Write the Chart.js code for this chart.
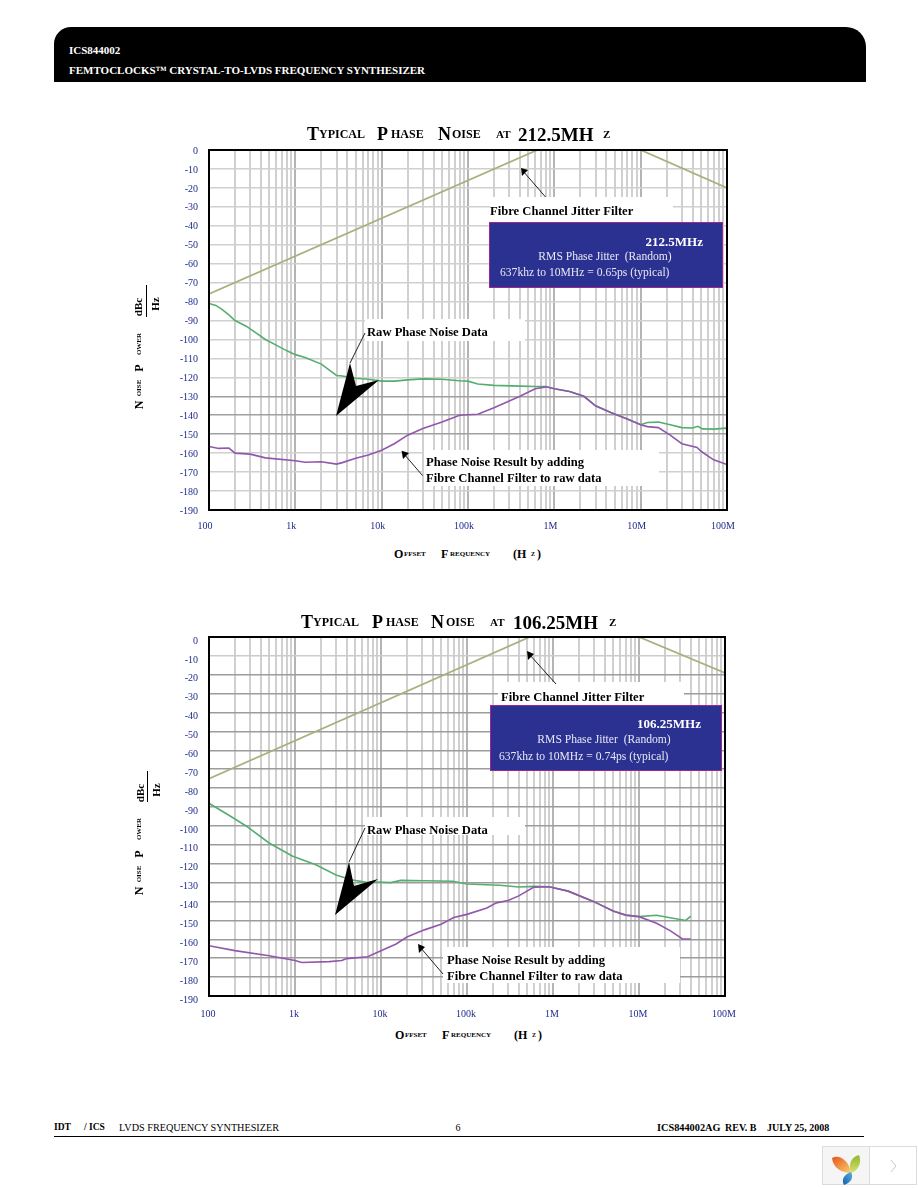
<!DOCTYPE html>
<html>
<head>
<meta charset="utf-8">
<title>ICS844002 phase noise</title>
<script src="https://cdn.jsdelivr.net/npm/chart.js@4"></script>
<style>
html, body { margin: 0; padding: 0; background: #fff; }
#page { position: relative; width: 918px; height: 1188px; overflow: hidden; font-family: "Liberation Serif", serif; color: #000; }
#page canvas { position: absolute; }
.t { position: absolute; white-space: pre; line-height: 1; }
.box { position: absolute; }
#header { left: 54px; top: 27px; width: 812px; height: 55px; background: #000; border-radius: 17px 20px 0 0; }
#footline { left: 54px; top: 1135.5px; width: 810px; height: 1px; background: #000; }
#widget { left: 822px; top: 1146px; width: 95px; height: 39px; border: 1px solid #dcdcdc; box-sizing: border-box; background: #fff; }
#widget div { position: absolute; left: 0; top: 0; width: 46px; height: 37px; background: #f5f5f5; border-right: 1px solid #dcdcdc; }
</style>
</head>
<body>
<div id="page">
  <div class="box" id="header"></div>
  <div class="box" id="footline"></div>
  <div class="box" id="widget"><div></div></div>
  <svg style="position:absolute;left:822px;top:1146px" width="95" height="39" viewBox="0 0 95 39">
    <defs>
      <linearGradient id="leafOrange" x1="0" y1="0" x2="1" y2="1"><stop offset="0" stop-color="#e8541e"/><stop offset="1" stop-color="#f8d070"/></linearGradient>
      <linearGradient id="leafGreen" x1="0" y1="0" x2="0" y2="1"><stop offset="0" stop-color="#8fb82e"/><stop offset="1" stop-color="#d8e070"/></linearGradient>
      <linearGradient id="leafBlue" x1="1" y1="0" x2="0" y2="1"><stop offset="0" stop-color="#5ab0e0"/><stop offset="1" stop-color="#1060b0"/></linearGradient>
    </defs>
    <path d="M10 12 C17 8 27 14 29 27 C20 27 11 22 10 12Z" fill="url(#leafOrange)"/>
    <path d="M29 27 C26 18 29 11 37 9 C40 16 37 24 29 27Z" fill="url(#leafGreen)"/>
    <path d="M22 39 C19 34 22 28 29 26 C32 31 29 37 22 39Z" fill="url(#leafBlue)"/>
    <path d="M69 14 L74 20 L69 26" fill="none" stroke="#c8c8c8" stroke-width="1"/>
  </svg>
  <canvas id="chartTop" width="620" height="400" style="left:120px;top:140px;width:620px;height:400px"></canvas>
  <canvas id="chartBottom" width="620" height="390" style="left:120px;top:627px;width:620px;height:390px"></canvas>
</div>
<script>
// tick labels and gridlines
const decadeValues = [100, 1000, 10000, 100000, 1000000, 10000000, 100000000]
const decadeLabels = ['100', '1k', '10k', '100k', '1M', '10M', '100M']
const gridValues = [100, 200, 300, 400, 500, 600, 700, 800, 900,
    1000, 2000, 3000, 4000, 5000, 6000, 7000, 8000, 9000,
    10000, 20000, 30000, 40000, 50000, 60000, 70000, 80000, 90000,
    100000, 200000, 300000, 400000, 500000, 600000, 700000, 800000, 900000,
    1000000, 2000000, 3000000, 4000000, 5000000, 6000000, 7000000, 8000000, 9000000,
    10000000, 20000000, 30000000, 40000000, 50000000, 60000000, 70000000, 80000000, 90000000,
    100000000]

// 212.5 MHz chart
const filterFreqTop = [100, 637000, 10000000, 100000000]
const filterTop = [-76, 0, 0, -20]
const rawFreqTop = [100, 120, 140, 170, 200, 270, 350, 450, 600, 800, 1000, 1300, 2000, 3000, 3500, 5000, 7000, 10000, 14000, 20000, 30000, 50000, 80000, 100000, 130000, 200000, 400000, 600000, 800000, 1000000, 1500000, 2200000, 3000000, 4500000, 7000000, 10000000, 12000000, 16000000, 22000000, 30000000, 40000000, 46000000, 52000000, 70000000, 100000000]
const rawTop = [-81, -82, -84, -87, -90, -93, -96.5, -100, -103, -106, -108, -109.5, -113, -119, -119.3, -120.5, -121, -122, -122, -121.3, -120.8, -121, -121.8, -122, -123.5, -124.2, -124.6, -124.8, -124.8, -126, -127.5, -130, -135, -138.5, -142, -145, -143.8, -143.6, -145, -146.5, -146.7, -145.8, -147.2, -147.3, -146.8]
const resultFreqTop = [100, 130, 170, 200, 300, 450, 1000, 1300, 2000, 3000, 3500, 5000, 7000, 10000, 14000, 20000, 30000, 50000, 80000, 100000, 130000, 200000, 400000, 600000, 800000, 1000000, 1500000, 2200000, 3000000, 4500000, 7000000, 10000000, 12000000, 16000000, 22000000, 30000000, 45000000, 50000000, 70000000, 100000000]
const resultTop = [-156.5, -157.5, -157.3, -160, -160.5, -162.5, -164, -164.8, -164.5, -165.8, -165, -162.7, -161, -158.5, -155, -150.5, -147, -143.5, -140, -139.7, -139.5, -136, -130, -126, -125, -126, -127.5, -130, -135, -138.5, -142, -145, -146, -146.5, -150.5, -155, -157, -159, -163.5, -166]

// 106.25 MHz chart
const filterFreqBottom = [100, 537000, 10000000, 100000000]
const filterBottom = [-75, 0, 0, -19]
const rawFreqBottom = [100, 180, 270, 500, 940, 1750, 3000, 4500, 7000, 9000, 13000, 17000, 32000, 68000, 100000, 240000, 400000, 600000, 900000, 1500000, 2900000, 5000000, 7000000, 10000000, 16000000, 23000000, 35000000, 40000000]
const rawBottom = [-88, -95, -100, -109, -116, -120.5, -126, -128.5, -130, -129.7, -130, -128.8, -129, -129.3, -130.7, -131.4, -132.3, -132, -132.2, -134.5, -139.8, -145, -147.2, -148, -147.3, -148.6, -150, -147.7]
const resultFreqBottom = [100, 200, 500, 1000, 1200, 2500, 3500, 4000, 7000, 10000, 15000, 20000, 32000, 50000, 70000, 100000, 170000, 220000, 300000, 400000, 600000, 900000, 1500000, 2900000, 5000000, 7000000, 10000000, 16000000, 23000000, 32000000, 40000000]
const resultBottom = [-163.4, -166, -168.7, -171.2, -172.3, -171.8, -171.2, -170.2, -169.2, -166, -162.5, -158.8, -155, -152, -148.5, -146.8, -143.4, -140.7, -139.5, -137, -132.4, -132.2, -134.5, -139.8, -145, -147.2, -148, -151.5, -155.4, -159.8, -159.8]

function pairs(xs, ys) {
    return xs.map(function(x, i) { return { x: x, y: ys[i] } })
}

// page positions for the callouts, turned into canvas positions by the plugin
const calloutsTop = {
    boxes: [[365, 319, 160, 22], [490, 197, 183, 25], [424, 450, 235, 36]],
    panel: [489.5, 222.5, 233, 65],
    lines: [[545.5, 197, 523, 171], [365, 333, 350, 363], [422.6, 475.7, 404, 454]],
    heads: [[521, 168, 528, 170, 522, 176], [401.6, 450.7, 409, 453, 403, 459]],
    bigArrow: [336, 416, 350, 363, 356, 386, 379, 380]
}
const calloutsBottom = {
    boxes: [[365, 817, 160, 18], [498, 682, 186, 23], [443, 947, 237, 36]],
    panel: [490.5, 705.5, 231, 65],
    lines: [[556, 684, 529, 654], [365, 828, 349, 862], [443, 974, 420, 947]],
    heads: [[527, 651, 534, 654, 528, 660], [418, 944, 425, 947, 419, 953]],
    bigArrow: [335, 915, 349, 862, 354, 886, 378, 879]
}

const calloutPlugin = {
    id: 'callouts',
    afterDraw: function(chart, args, opts) {
        const ctx = chart.ctx
        const c = opts.data
        const ox = chart.canvas.offsetLeft
        const oy = chart.canvas.offsetTop
        // frame round the plot
        const a = chart.chartArea
        ctx.strokeStyle = '#000'
        ctx.lineWidth = 2
        ctx.strokeRect(a.left, a.top, a.width, a.height)
        ctx.save()
        ctx.translate(-ox, -oy)
        ctx.fillStyle = '#fff'
        c.boxes.forEach(function(b) { ctx.fillRect(b[0], b[1], b[2], b[3]) })
        ctx.fillStyle = '#2b3191'
        ctx.strokeStyle = '#a0268f'
        ctx.lineWidth = 1
        ctx.fillRect(c.panel[0], c.panel[1], c.panel[2], c.panel[3])
        ctx.strokeRect(c.panel[0], c.panel[1], c.panel[2], c.panel[3])
        ctx.strokeStyle = '#222'
        c.lines.forEach(function(l) {
            ctx.beginPath()
            ctx.moveTo(l[0], l[1])
            ctx.lineTo(l[2], l[3])
            ctx.stroke()
        })
        ctx.fillStyle = '#000'
        c.heads.concat([c.bigArrow]).forEach(function(p) {
            ctx.beginPath()
            ctx.moveTo(p[0], p[1])
            for (let i = 2; i < p.length; i += 2) ctx.lineTo(p[i], p[i + 1])
            ctx.closePath()
            ctx.fill()
        })
        ctx.restore()
    }
}

// the label overhang must not push the plot area around
function noOverhang(axis) {
    axis.paddingLeft = 0
    axis.paddingRight = 0
    axis.paddingTop = 0
    axis.paddingBottom = 0
}

function drawNoiseChart(id, filter, raw, result, callouts, opts) {
    new Chart(document.getElementById(id), {
        type: 'line',
        plugins: [calloutPlugin],
        data: {
            datasets: [
                { data: filter, borderColor: '#a9b07c', borderWidth: 1.8 },
                { data: result, borderColor: '#9257ab', borderWidth: 1.6 },
                { data: raw, borderColor: '#55ad70', borderWidth: 1.6 }
            ]
        },
        options: {
            responsive: false,
            animation: false,
            layout: { padding: { top: opts.top, right: opts.right, left: 0, bottom: 0 } },
            elements: { point: { radius: 0 }, line: { tension: 0 } },
            plugins: { legend: { display: false }, tooltip: { enabled: false }, callouts: { data: callouts } },
            scales: {
                x: {
                    type: 'logarithmic',
                    min: 100,
                    max: 100000000,
                    afterBuildTicks: function(axis) {
                        axis.ticks = gridValues.map(function(v) { return { value: v } })
                    },
                    afterFit: function(axis) {
                        axis.height = opts.xHeight
                        noOverhang(axis)
                    },
                    border: { display: false },
                    grid: {
                        drawTicks: false,
                        lineWidth: 2,
                        color: function(c) {
                            return decadeValues.indexOf(c.tick.value) >= 0 ? '#b4b4b4' : '#d0d0d0'
                        }
                    },
                    ticks: {
                        autoSkip: false,
                        maxRotation: 0,
                        padding: opts.xPad,
                        labelOffset: opts.xLabelOffset,
                        color: '#1f2a8c',
                        font: { family: 'Liberation Serif', size: 10 },
                        callback: function(v) {
                            const i = decadeValues.indexOf(v)
                            return i >= 0 ? decadeLabels[i] : ''
                        }
                    }
                },
                y: {
                    min: -190,
                    max: 0,
                    afterFit: function(axis) {
                        axis.width = 89
                        noOverhang(axis)
                    },
                    border: { display: false },
                    grid: { drawTicks: false, lineWidth: 1.6, color: opts.hGrid },
                    ticks: {
                        stepSize: 10,
                        padding: 11,
                        labelOffset: opts.yLabelOffset,
                        color: '#1f2a8c',
                        font: { family: 'Liberation Serif', size: 10 }
                    }
                }
            }
        }
    })
}

drawNoiseChart('chartTop', pairs(filterFreqTop, filterTop), pairs(rawFreqTop, rawTop), pairs(resultFreqTop, resultTop), calloutsTop, {
    top: 10, right: 13, xHeight: 30, xPad: 10, xLabelOffset: -4, yLabelOffset: 1,
    hGrid: function(c) { return [-130, -140, -150].indexOf(c.tick.value) >= 0 ? '#a0a0a0' : '#d0d0d0' }
})
drawNoiseChart('chartBottom', pairs(filterFreqBottom, filterBottom), pairs(rawFreqBottom, rawBottom), pairs(resultFreqBottom, resultBottom), calloutsBottom, {
    top: 10, right: 15, xHeight: 21, xPad: 12, xLabelOffset: -1, yLabelOffset: 4,
    hGrid: function(c) { return [0, -10].indexOf(c.tick.value) >= 0 ? '#cccccc' : '#9c9c9c' }
})

// text of the page, each piece: x, middle y, string, size, bold, colour, anchor
function put(x, y, str, size, bold, color, anchor, rotate) {
    const el = document.createElement('div')
    el.className = 't'
    el.textContent = str
    el.style.left = x + 'px'
    el.style.top = y + 'px'
    el.style.fontSize = size + 'px'
    if (bold) el.style.fontWeight = 'bold'
    if (color) el.style.color = color
    const ax = anchor === 'end' ? '-100%' : anchor === 'middle' ? '-50%' : '0'
    el.style.transform = 'translate(' + ax + ',-50%)' + (rotate ? ' rotate(-90deg)' : '')
    document.getElementById('page').appendChild(el)
}

put(69, 50, 'ICS844002', 11, true, '#fff')
put(69, 70, 'FEMTOCLOCKS\u2122 CRYSTAL-TO-LVDS FREQUENCY SYNTHESIZER', 11, true, '#fff')
put(54, 1128, 'IDT', 9.5, true)
put(84, 1128, '/ ICS', 9.5, true)
put(119, 1128, 'LVDS FREQUENCY SYNTHESIZER', 10.2, false)
put(458, 1128, '6', 10, false, null, 'middle')
put(657, 1128, 'ICS844002AG', 10.3, true)
put(725, 1128, 'REV. B', 10, true)
put(767, 1128, 'JULY 25, 2008', 10, true)

function chartTitle(y, xs, freq) {
    put(xs[0], y, 'T', 18, true)
    put(xs[1], y, 'YPICAL', 12, true)
    put(xs[2], y, 'P', 18, true)
    put(xs[3], y, 'HASE', 12, true)
    put(xs[4], y, 'N', 18, true)
    put(xs[5], y, 'OISE', 12, true)
    put(xs[6], y, 'AT', 11, true)
    put(xs[7], y, freq, 19, true)
    put(xs[8], y, 'Z', 11, true)
}
chartTitle(134, [307, 319, 377, 391, 438, 452, 496, 518, 603], '212.5MH')
chartTitle(622, [301, 313, 372, 386, 431, 446, 490, 513, 609], '106.25MH')

function xTitle(y, dx) {
    put(394 + dx, y, 'O', 12, true)
    put(404 + dx, y, 'FFSET', 7, true)
    put(441 + dx, y, 'F', 12, true)
    put(450 + dx, y, 'REQUENCY', 7, true)
    put(513 + dx, y, '(H', 12, true)
    put(531 + dx, y, 'Z', 6, true)
    put(537 + dx, y, ')', 12, true)
}
xTitle(554, 0)
xTitle(1035, 1)

function yTitle(x, n, o, p, w) {
    put(x, n, 'N', 12, true, null, 'middle', true)
    put(x, o, 'OISE', 7, true, null, 'middle', true)
    put(x, p, 'P', 12, true, null, 'middle', true)
    put(x, w, 'OWER', 7, true, null, 'middle', true)
}
yTitle(139, 405, 388, 368, 344)
yTitle(139, 891, 874, 854, 829)

put(138, 307, 'dBc', 11, true, null, 'middle', true)
put(155, 304, 'Hz', 11, true, null, 'middle', true)
put(140, 793, 'dBc', 11, true, null, 'middle', true)
put(156, 790, 'Hz', 11, true, null, 'middle', true)

const rule = 'background:#000;position:absolute;width:1px'
const page = document.getElementById('page')
page.insertAdjacentHTML('beforeend', '<div style="' + rule + ';left:146px;top:285px;height:32px"></div>')
page.insertAdjacentHTML('beforeend', '<div style="' + rule + ';left:147px;top:771px;height:31px"></div>')

const calloutSize = 12.6
const panelSize = 11.6

put(490, 211, 'Fibre Channel Jitter Filter', calloutSize, true)
put(703, 241, '212.5MHz', 13, true, '#fff', 'end')
put(605, 257, 'RMS Phase Jitter  (Random)', panelSize, false, '#e8e8f4', 'middle')
put(500, 273, '637khz to 10MHz = 0.65ps (typical)', panelSize, false, '#e8e8f4')
put(367, 332, 'Raw Phase Noise Data', calloutSize, true)
put(426, 462, 'Phase Noise Result by adding', calloutSize, true)
put(426, 478, 'Fibre Channel Filter to raw data', calloutSize, true)

put(501, 697, 'Fibre Channel Jitter Filter', calloutSize, true)
put(701, 723, '106.25MHz', 13, true, '#fff', 'end')
put(604, 740, 'RMS Phase Jitter  (Random)', panelSize, false, '#e8e8f4', 'middle')
put(499, 757, '637khz to 10MHz = 0.74ps (typical)', panelSize, false, '#e8e8f4')
put(367, 830, 'Raw Phase Noise Data', calloutSize, true)
put(447, 960, 'Phase Noise Result by adding', calloutSize, true)
put(447, 976, 'Fibre Channel Filter to raw data', calloutSize, true)
</script>
</body>
</html>
